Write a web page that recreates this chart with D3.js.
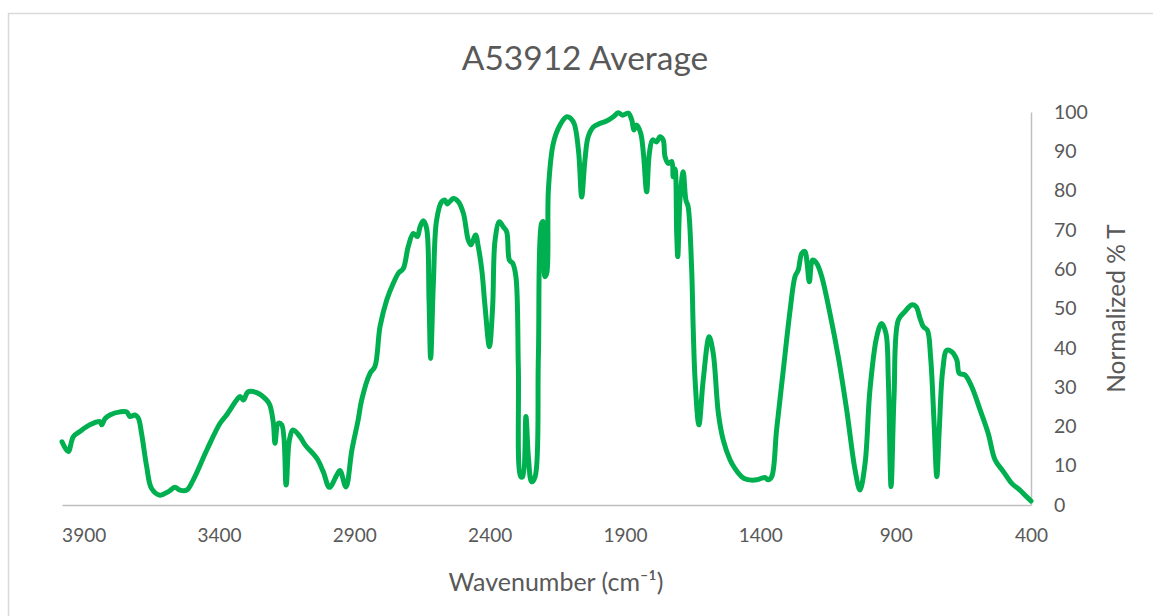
<!DOCTYPE html>
<html>
<head>
<meta charset="utf-8">
<script src="https://cdn.jsdelivr.net/npm/d3@7"></script>
<style>
  html, body { margin: 0; padding: 0; background: #fff; }
  svg { display: block; }
</style>
</head>
<body>
<svg id="chart" width="1153" height="616"></svg>
<script>
const chartTitle = "A53912 Average";
const xTitle = "Wavenumber (cm\u207B\u00B9)";
const yTitle = "Normalized % T";
const xTickValues = [3900, 3400, 2900, 2400, 1900, 1400, 900, 400];
const yTickValues = [0, 10, 20, 30, 40, 50, 60, 70, 80, 90, 100];

const wavenumber = [3980,3957,3938,3914,3877,3840,3833,3821,3803,3766,3741,3729,3710,3698,3686,3667,3649,3618,3587,3563,3544,3519,3495,3445,3396,3372,3335,3322,3310,3292,3261,3224,3212,3199,3193,3181,3168,3152,3140,3126,3101,3082,3039,3015,2992,2965,2953,2931,2909,2886,2873,2842,2824,2805,2780,2756,2737,2719,2701,2682,2667,2657,2645,2633,2624,2618,2608,2596,2577,2565,2557,2534,2516,2497,2479,2469,2452,2442,2429,2417,2401,2389,2380,2364,2350,2337,2327,2315,2303,2294,2285,2278,2266,2257,2245,2232,2220,2208,2202,2196,2189,2183,2165,2140,2115,2091,2072,2060,2048,2036,2017,1992,1968,1943,1925,1909,1888,1875,1867,1857,1842,1832,1820,1810,1798,1783,1771,1759,1752,1740,1727,1722,1715,1709,1705,1697,1685,1675,1667,1654,1648,1641,1627,1611,1589,1574,1555,1537,1512,1494,1469,1450,1413,1383,1371,1358,1340,1315,1290,1272,1260,1247,1235,1228,1219,1207,1192,1173,1143,1112,1081,1050,1032,1013,995,970,952,936,927,917,906,890,866,841,825,810,798,783,771,758,748,739,726,711,693,674,665,644,619,588,558,533,502,471,441,422,400];
const transmittance = [16.1,13.6,17.4,18.7,20.4,21.2,20.4,22.0,22.9,23.7,23.7,22.5,22.9,22.1,18.2,9.7,4.2,2.5,3.4,4.5,3.8,3.8,6.4,14,20.8,22.9,26.7,27.6,26.7,28.8,28.6,26.7,25.4,20.8,15.7,20.8,20.4,5.1,16.5,19.1,17.4,15.3,11.9,8.5,4.5,7.6,8.8,4.6,14,21.6,26.7,33.5,35.2,45.4,52.2,56.4,59,60.2,65.7,69.1,68.3,70.8,72.3,70.4,52.2,37.3,56.4,72.5,77.2,77.6,76.6,78,77.2,74.2,67.4,66.2,68.7,65.7,59.8,50.5,40.3,50.5,67.4,72.1,70.8,69.5,62.3,61.5,58.1,35,7.2,7.2,22.5,12.3,5.9,7.2,37.7,71.7,72.1,58.1,59,80.2,92,96.7,98.8,97.5,90.3,78.4,87.8,93.7,96.2,97.1,97.7,98.8,99.8,99.2,99.7,98,95.4,96.7,94.6,89.5,79.7,89.5,92.9,92.4,93.7,92.9,88.6,86.9,87.4,83.5,85.5,69.1,63.2,77.6,84.8,77.6,76,60.6,45,31.8,20.4,31.8,42.8,38.6,23.3,16.5,11.5,9.3,7.2,6.5,6.4,7,6.4,7.2,19.1,34.4,49.6,58.1,59.8,64,64.5,62,56.8,62.3,61.5,58.1,48.8,37.7,24.2,8.9,3.8,10.6,29.3,42.8,46.2,43.7,31.8,4.7,27.6,47.1,49.2,50.9,50.5,47.5,45.4,44.5,37.7,20.8,7.2,19.1,34.4,39.4,39,36.9,33.5,33.1,30.1,24.2,18.2,11.5,8.5,5.5,3.8,2.5,1.0];

const svg = d3.select("#chart");
const font = "Lato, 'Open Sans', sans-serif";
const textColor = "#595959";

// chart area border
svg.append("rect")
  .attr("x", 8.5).attr("y", 13.5)
  .attr("width", 1160).attr("height", 620)
  .attr("fill", "#fff").attr("stroke", "#d9d9d9").attr("stroke-width", 1.5);

const plot = { left: 62, right: 1031, top: 112, bottom: 505 };

const x = d3.scaleLinear().domain([3980, 400]).range([plot.left, plot.right]);
const y = d3.scaleLinear().domain([0, 100]).range([plot.bottom, plot.top]);

// X axis
const xAxis = svg.append("g")
  .attr("transform", `translate(0,${plot.bottom})`)
  .call(d3.axisBottom(x).tickValues(xTickValues).tickSize(0).tickPadding(24).tickFormat(d3.format("d")));
xAxis.select(".domain").attr("stroke", "#bfbfbf").attr("stroke-width", 1.5);
xAxis.selectAll("text").attr("font-family", font).attr("font-size", 19).attr("fill", textColor);

// Y axis (right)
const yAxis = svg.append("g")
  .attr("transform", `translate(${plot.right},0)`)
  .call(d3.axisRight(y).tickValues(yTickValues).tickSize(0).tickPadding(23));
yAxis.select(".domain").attr("stroke", "#bfbfbf").attr("stroke-width", 1.5);
yAxis.selectAll("text").attr("font-family", font).attr("font-size", 19.5).attr("fill", textColor);

// line
const line = d3.line()
  .x((d, i) => x(wavenumber[i]))
  .y((d, i) => y(transmittance[i]))
  .curve(d3.curveCatmullRom.alpha(0.5));

svg.append("path")
  .datum(wavenumber)
  .attr("d", line)
  .attr("fill", "none")
  .attr("stroke", "#00B050")
  .attr("stroke-width", 5)
  .attr("stroke-linejoin", "round")
  .attr("stroke-linecap", "round");

// Titles
svg.append("text")
  .attr("x", 585).attr("y", 70)
  .attr("text-anchor", "middle")
  .attr("font-family", font).attr("font-size", 33.5)
  .attr("fill", textColor)
  .text(chartTitle);

svg.append("text")
  .attr("x", 556).attr("y", 591)
  .attr("text-anchor", "middle")
  .attr("font-family", font).attr("font-size", 25)
  .attr("fill", textColor)
  .text(xTitle);

svg.append("text")
  .attr("transform", `translate(1125,${(plot.top + plot.bottom) / 2}) rotate(-90)`)
  .attr("text-anchor", "middle")
  .attr("font-family", font).attr("font-size", 24.5)
  .attr("fill", textColor)
  .text(yTitle);
</script>
</body>
</html>
